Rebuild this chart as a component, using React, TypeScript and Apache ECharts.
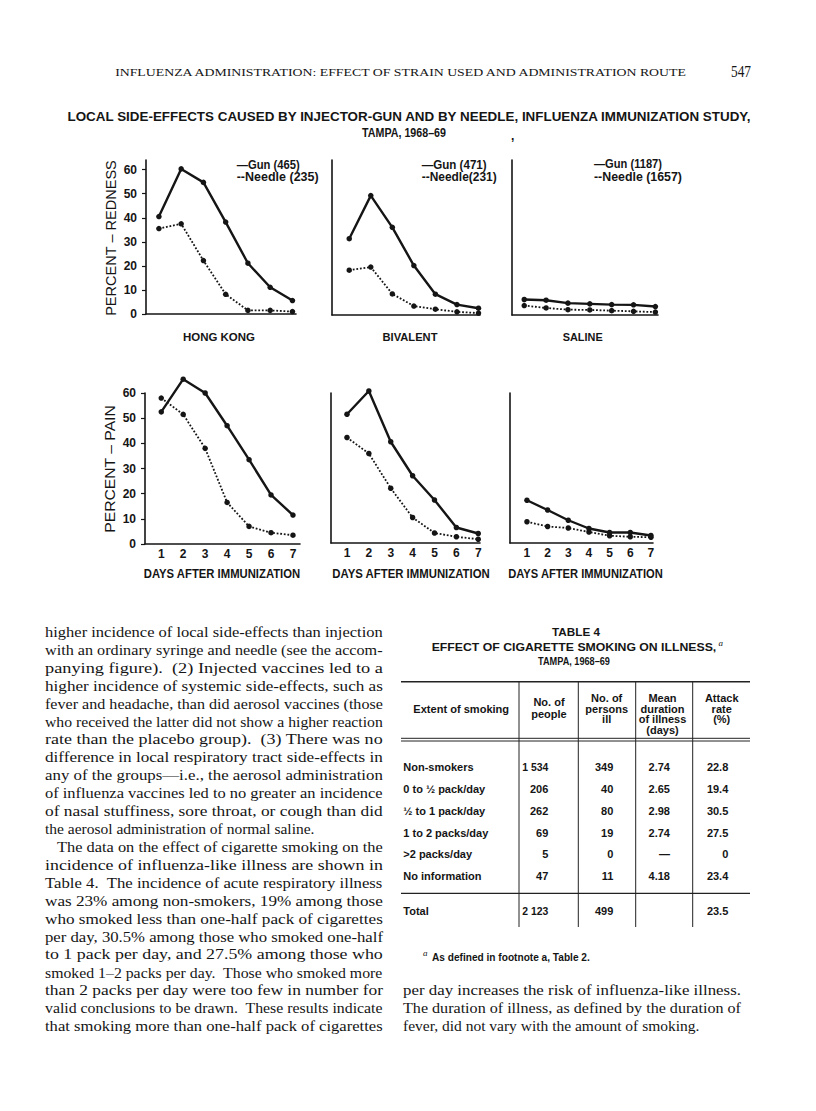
import React, { useEffect, useRef } from "react";
import * as echarts from "echarts";

// ---------- DATA ----------
const days = [1, 2, 3, 4, 5, 6, 7];
const yTicks = [0, 10, 20, 30, 40, 50, 60];

const hkRednessGun = [40.5, 60.3, 54.7, 38.2, 21.1, 11.1, 5.6];
const hkRednessNeedle = [35.5, 37.5, 22.2, 8.2, 1.5, 1.5, 1.0];
const bivRednessGun = [31.5, 49.3, 36.2, 20.4, 8.6, 4.3, 2.8];
const bivRednessNeedle = [18.5, 19.8, 8.7, 3.7, 2.4, 1.3, 0.8];
const salRednessGun = [6.4, 6.1, 4.9, 4.6, 4.3, 4.2, 3.5];
const salRednessNeedle = [3.9, 2.9, 2.2, 2.1, 1.8, 1.5, 1.2];

const hkPainGun = [52.5, 65.5, 60.0, 47.0, 33.5, 19.5, 11.5];
const hkPainNeedle = [58.0, 51.5, 38.0, 16.5, 7.0, 4.5, 3.5];
const bivPainGun = [51.5, 60.8, 40.5, 26.9, 17.2, 6.2, 3.8];
const bivPainNeedle = [42.2, 35.8, 21.9, 10.2, 4.0, 2.5, 1.5];
const salPainGun = [17.1, 13.2, 9.1, 5.8, 4.2, 4.2, 3.0];
const salPainNeedle = [8.5, 6.6, 6.0, 4.4, 2.9, 2.5, 2.3];

const panelNames = ["HONG KONG", "BIVALENT", "SALINE"];
const gunLegend = ["\u2014Gun (465)", "\u2014Gun (471)", "\u2014Gun (1187)"];
const needleLegend = ["--Needle (235)", "--Needle(231)", "--Needle (1657)"];
const xAxisTitle = "DAYS AFTER IMMUNIZATION";
const yTitleRedness = "PERCENT \u2013 REDNESS";
const yTitlePain = "PERCENT \u2013 PAIN";

const runningHead = "INFLUENZA ADMINISTRATION: EFFECT OF STRAIN USED AND ADMINISTRATION ROUTE";
const pageNumber = "547";
const figTitle1 = "LOCAL SIDE-EFFECTS CAUSED BY INJECTOR-GUN AND BY NEEDLE, INFLUENZA IMMUNIZATION STUDY,";
const figTitle2 = "TAMPA, 1968\u201369";

const tableLabel = "TABLE 4";
const tableTitle = "EFFECT OF CIGARETTE SMOKING ON ILLNESS,";
const tableSubtitle = "TAMPA, 1968\u201369";
const headExtent = ["Extent of smoking"];
const headPeople = ["No. of", "people"];
const headIll = ["No. of", "persons", "ill"];
const headMean = ["Mean", "duration", "of illness", "(days)"];
const headAttack = ["Attack", "rate", "(%)"];
const smokingCategories = ["Non-smokers", "0 to \u00bd pack/day", "\u00bd to 1 pack/day", "1 to 2 packs/day", ">2 packs/day", "No information"];
const noOfPeople = ["1 534", "206", "262", "69", "5", "47"];
const personsIll = ["349", "40", "80", "19", "0", "11"];
const meanDuration = ["2.74", "2.65", "2.98", "2.74", "\u2014", "4.18"];
const attackRate = ["22.8", "19.4", "30.5", "27.5", "0", "23.4"];
const totalRow = ["Total", "2 123", "499", "", "23.5"];
const footnote = "As defined in footnote a, Table 2.";

const leftColumn = [
  "higher incidence of local side-effects than injection",
  "with an ordinary syringe and needle (see the accom-",
  "panying figure).  (2) Injected vaccines led to a",
  "higher incidence of systemic side-effects, such as",
  "fever and headache, than did aerosol vaccines (those",
  "who received the latter did not show a higher reaction",
  "rate than the placebo group).  (3) There was no",
  "difference in local respiratory tract side-effects in",
  "any of the groups\u2014i.e., the aerosol administration",
  "of influenza vaccines led to no greater an incidence",
  "of nasal stuffiness, sore throat, or cough than did",
  "the aerosol administration of normal saline.",
  "The data on the effect of cigarette smoking on the",
  "incidence of influenza-like illness are shown in",
  "Table 4.  The incidence of acute respiratory illness",
  "was 23% among non-smokers, 19% among those",
  "who smoked less than one-half pack of cigarettes",
  "per day, 30.5% among those who smoked one-half",
  "to 1 pack per day, and 27.5% among those who",
  "smoked 1\u20132 packs per day.  Those who smoked more",
  "than 2 packs per day were too few in number for",
  "valid conclusions to be drawn.  These results indicate",
  "that smoking more than one-half pack of cigarettes",
];
const leftParagraphEnds = [11];
const leftIndents = [12];
const rightColumn = [
  "per day increases the risk of influenza-like illness.",
  "The duration of illness, as defined by the duration of",
  "fever, did not vary with the amount of smoking.",
];
const rightParagraphEnds = [2];

// ---------- LAYOUT ----------
const INK = "#151515";
const SANS = '"Liberation Sans", Arial, sans-serif';
const SERIF = '"Liberation Serif", "Times New Roman", serif';

const panels = [
  { left: 146, top: 160, width: 150, height: 154, xMin: 0.42, xMax: 7.16, yMax: 64, gun: hkRednessGun, needle: hkRednessNeedle, yLabels: true, xLabels: false },
  { left: 332, top: 160, width: 148, height: 155, xMin: 0.2, xMax: 7.07, yMax: 64, gun: bivRednessGun, needle: bivRednessNeedle, yLabels: false, xLabels: false },
  { left: 512, top: 160, width: 146, height: 155, xMin: 0.44, xMax: 7.12, yMax: 64, gun: salRednessGun, needle: salRednessNeedle, yLabels: false, xLabels: false },
  { left: 145, top: 393, width: 155, height: 151, xMin: 0.26, xMax: 7.32, yMax: 60, gun: hkPainGun, needle: hkPainNeedle, yLabels: true, xLabels: true },
  { left: 331, top: 393, width: 149, height: 150, xMin: 0.27, xMax: 7.08, yMax: 60, gun: bivPainGun, needle: bivPainNeedle, yLabels: false, xLabels: true },
  { left: 510, top: 393, width: 143, height: 150, xMin: 0.18, xMax: 7.1, yMax: 60, gun: salPainGun, needle: salPainNeedle, yLabels: false, xLabels: true },
];

let measureCtx: CanvasRenderingContext2D | null = null;
function measure(text: string, font: string): number {
  if (!measureCtx) measureCtx = document.createElement("canvas").getContext("2d");
  if (!measureCtx) return text.length * 7;
  measureCtx.font = font;
  return measureCtx.measureText(text).width;
}

type TOpts = {
  size?: number;
  weight?: string;
  family?: string;
  italic?: boolean;
  align?: string;
  fit?: number;
  rotate?: number;
  color?: string;
  minScale?: number;
  maxScale?: number;
};

function T(text: string, x: number, y: number, o: TOpts = {}) {
  const size = o.size ?? 12;
  const weight = o.weight ?? "normal";
  const family = o.family ?? SANS;
  const fstyle = o.italic ? "italic" : "normal";
  let sx = 1;
  if (o.fit) {
    const w = measure(text, `${fstyle} ${weight} ${size}px ${family}`);
    if (w > 0) sx = o.fit / w;
    const lo = o.minScale ?? 0.6;
    const hi = o.maxScale ?? 1.6;
    sx = Math.max(lo, Math.min(hi, sx));
  }
  return {
    type: "text",
    x,
    y,
    rotation: o.rotate ?? 0,
    scaleX: sx,
    silent: true,
    style: {
      text,
      fill: o.color ?? INK,
      fontSize: size,
      fontWeight: weight,
      fontFamily: family,
      fontStyle: fstyle,
      align: o.align ?? "left",
      verticalAlign: "middle",
    },
  };
}

function L(x1: number, y1: number, x2: number, y2: number, w = 1.2) {
  return { type: "line", silent: true, shape: { x1, y1, x2, y2 }, style: { stroke: "#222", lineWidth: w } };
}

function buildGraphics() {
  const g: any[] = [];
  // page header
  g.push(T(runningHead, 400.5, 72, { size: 11, family: SERIF, align: "center", fit: 575 }));
  g.push(T(pageNumber, 731, 72, { size: 16, family: SERIF, fit: 20 }));
  // figure title
  g.push(T(figTitle1, 409, 117, { size: 12, weight: "bold", align: "center", fit: 685 }));
  g.push(T(figTitle2, 404, 133, { size: 12, weight: "bold", align: "center", fit: 84 }));
  g.push(T(",", 511, 136, { size: 12, weight: "bold" }));

  // legends
  const legX = [236.7, 421.7, 594];
  const gunW = [63, 65, 68];
  const needleW = [82, 75, 88];
  for (let i = 0; i < 3; i++) {
    g.push(T(gunLegend[i], legX[i], 164, { size: 12, weight: "bold", fit: gunW[i] }));
    g.push(T(needleLegend[i], legX[i], 176.8, { size: 12, weight: "bold", fit: needleW[i] }));
  }
  // panel names
  const nameX = [219, 410, 582.7];
  const nameW = [72, 55, 40];
  for (let i = 0; i < 3; i++) g.push(T(panelNames[i], nameX[i], 337, { size: 11.5, weight: "bold", align: "center", fit: nameW[i] }));
  // x titles
  const dX = [222, 411, 585.5];
  const dW = [157, 158, 155];
  for (let i = 0; i < 3; i++) g.push(T(xAxisTitle, dX[i], 573.5, { size: 13.5, weight: "bold", align: "center", fit: dW[i] }));
  // y titles
  g.push(T(yTitleRedness, 111, 238, { size: 14, align: "center", rotate: Math.PI / 2, fit: 156 }));
  g.push(T(yTitlePain, 110.5, 469, { size: 14, align: "center", rotate: Math.PI / 2, fit: 128 }));

  // body text
  const lineStep = 17.92;
  const bodySize = 15.5;
  const bodyFont = `normal normal ${bodySize}px ${SERIF}`;
  const col = (lines: string[], x0: number, w: number, y0: number, ends: number[], indents: number[]) => {
    lines.forEach((s, i) => {
      const ind = indents.includes(i) ? 12 : 0;
      const y = y0 + i * lineStep;
      if (ends.includes(i)) {
        g.push(T(s, x0 + ind, y, { size: bodySize, family: SERIF }));
      } else {
        const nat = measure(s, bodyFont);
        const sx = Math.max(0.85, Math.min(1.25, (w - ind) / nat));
        const el: any = T(s, x0 + ind, y, { size: bodySize, family: SERIF });
        el.scaleX = sx;
        g.push(el);
      }
    });
  };
  col(leftColumn, 45, 338, 631.7, leftParagraphEnds, leftIndents);
  col(rightColumn, 403, 338, 631.7 + 20 * lineStep, rightParagraphEnds, []);

  // table
  g.push(T(tableLabel, 576, 631.7, { size: 11.5, weight: "bold", align: "center", fit: 48 }));
  g.push(T(tableTitle, 431.7, 647.3, { size: 11.5, weight: "bold", fit: 285 }));
  g.push(T("a", 718.5, 643, { size: 9, italic: true, family: SERIF }));
  g.push(T(tableSubtitle, 574, 660.7, { size: 11.5, weight: "bold", align: "center", fit: 72 }));
  g.push(L(401, 681.7, 750, 681.7, 1.4));
  g.push(L(401, 738.3, 750, 738.3, 1));
  g.push(L(401, 741, 750, 741, 1));
  g.push(L(401, 893.3, 750, 893.3, 1.3));
  [519, 578.3, 635.7, 692.7].forEach((x) => g.push(L(x, 681.7, x, 927, 1)));
  const hs = { size: 11, weight: "bold" };
  g.push(T(headExtent[0], 413.3, 709, { ...hs, fit: 96 }));
  const hy2 = [702, 714.3];
  const hy3 = [697.7, 708.8, 719.3];
  const hy4 = [697.7, 708.8, 719.3, 729.6];
  headPeople.forEach((s, i) => g.push(T(s, 549, hy2[i], { ...hs, align: "center" })));
  headIll.forEach((s, i) => g.push(T(s, 606.7, hy3[i], { ...hs, align: "center" })));
  headMean.forEach((s, i) => g.push(T(s, 662.5, hy4[i], { ...hs, align: "center" })));
  headAttack.forEach((s, i) => g.push(T(s, 721.7, hy3[i], { ...hs, align: "center" })));
  const rowY = [767.3, 789.3, 811, 832.7, 854, 875.7];
  const colR = [548.3, 613.3, 670, 728.3];
  const numFit = (s: string) => (s.length >= 5 ? { fit: 26 } : {});
  smokingCategories.forEach((s, i) => {
    g.push(T(s, 403.3, rowY[i], hs));
    g.push(T(noOfPeople[i], colR[0], rowY[i], { ...hs, align: "right", ...numFit(noOfPeople[i]) }));
    g.push(T(personsIll[i], colR[1], rowY[i], { ...hs, align: "right" }));
    g.push(T(meanDuration[i], colR[2], rowY[i], { ...hs, align: "right" }));
    g.push(T(attackRate[i], colR[3], rowY[i], { ...hs, align: "right" }));
  });
  g.push(T(totalRow[0], 403.3, 910.7, hs));
  g.push(T(totalRow[1], colR[0], 910.7, { ...hs, align: "right", ...numFit(totalRow[1]) }));
  g.push(T(totalRow[2], colR[1], 910.7, { ...hs, align: "right" }));
  g.push(T(totalRow[4], colR[3], 910.7, { ...hs, align: "right" }));
  // footnote
  g.push(T("a", 423, 953, { size: 9, italic: true, family: SERIF }));
  g.push(T(footnote, 432, 957, { size: 11, weight: "bold", fit: 158 }));
  return g;
}

function buildOption() {
  const grid: any[] = [];
  const xAxis: any[] = [];
  const yAxis: any[] = [];
  const series: any[] = [];
  const axisLine = { show: true, onZero: false, lineStyle: { color: INK, width: 1.6 } };
  const lbl = { fontSize: 12, fontWeight: "bold", color: INK, fontFamily: SANS };
  panels.forEach((p, i) => {
    grid.push({ left: p.left, top: p.top, width: p.width, height: p.height, containLabel: false });
    xAxis.push({
      type: "value",
      gridIndex: i,
      min: p.xMin,
      max: p.xMax,
      axisLine,
      axisTick: { show: false },
      splitLine: { show: false },
      axisLabel: p.xLabels ? { show: true, customValues: days, margin: 4, ...lbl } : { show: false },
    });
    yAxis.push({
      type: "value",
      gridIndex: i,
      min: 0,
      max: p.yMax,
      axisLine,
      axisTick: p.yLabels
        ? { show: true, length: 4, customValues: yTicks, lineStyle: { color: INK, width: 1.2 } }
        : { show: false },
      axisLabel: p.yLabels ? { show: true, customValues: yTicks, margin: 9, ...lbl } : { show: false },
      splitLine: { show: false },
    });
    series.push({
      type: "line",
      name: "Gun",
      xAxisIndex: i,
      yAxisIndex: i,
      data: days.map((d, k) => [d, p.gun[k]]),
      symbol: "circle",
      symbolSize: 5.5,
      clip: false,
      lineStyle: { color: INK, width: 2.4, type: "solid" },
      itemStyle: { color: INK },
      z: 3,
    });
    series.push({
      type: "line",
      name: "Needle",
      xAxisIndex: i,
      yAxisIndex: i,
      data: days.map((d, k) => [d, p.needle[k]]),
      symbol: "circle",
      symbolSize: 5.5,
      clip: false,
      lineStyle: { color: INK, width: 1.8, type: "dotted" },
      itemStyle: { color: INK },
      z: 2,
    });
  });
  return {
    animation: false,
    backgroundColor: "#ffffff",
    grid,
    xAxis,
    yAxis,
    series,
    graphic: { elements: buildGraphics() },
  };
}

export default function App() {
  const ref = useRef<HTMLDivElement>(null);
  useEffect(() => {
    if (!ref.current) return;
    const chart = echarts.init(ref.current, undefined, { renderer: "svg", width: 816, height: 1111 });
    chart.setOption(buildOption() as any);
    return () => chart.dispose();
  }, []);
  return (
    <div
      ref={ref}
      style={{ position: "absolute", left: 0, top: 0, width: 816, height: 1111, background: "#fff" }}
    />
  );
}
